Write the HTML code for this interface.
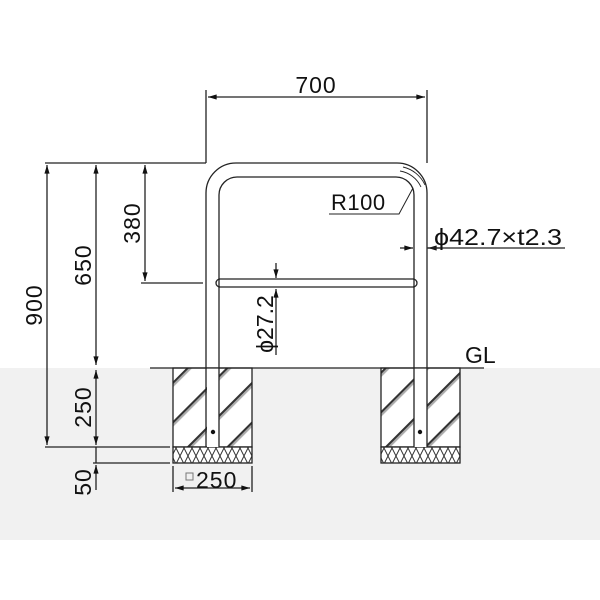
<!DOCTYPE html>
<html><head><style>body{margin:0;background:#fff}svg{display:block}text{font-family:"Liberation Sans","DejaVu Sans",sans-serif;fill:#111}</style></head>
<body>
<svg width="600" height="600" viewBox="0 0 600 600" xmlns="http://www.w3.org/2000/svg">
<defs>
<marker id="a" viewBox="0 0 10 6" refX="10" refY="3" markerWidth="8" markerHeight="4" orient="auto-start-reverse"><path d="M0,0L10,3L0,6z" fill="#111"/></marker>
<pattern id="h" width="28" height="28" patternUnits="userSpaceOnUse" patternTransform="rotate(45)">
<rect width="28" height="28" fill="#fff"/><rect x="0" y="0" width="2.2" height="28" fill="#333"/><rect x="2.2" y="0" width="2" height="28" fill="#aaa"/></pattern>
<pattern id="x" width="8" height="16" patternUnits="userSpaceOnUse">
<rect width="8" height="16" fill="#fff"/><path d="M0,16L8,0M0,0L8,16" stroke="#333" stroke-width="1"/></pattern>
</defs>
<rect x="0" y="368" width="600" height="172" fill="#f1f1f1"/>
<g stroke="#222" stroke-width="1.3" fill="none">
<rect x="173" y="368" width="79" height="79" fill="url(#h)"/>
<rect x="381" y="368" width="79" height="79" fill="url(#h)"/>
<rect x="173" y="447" width="79" height="16" fill="url(#x)"/>
<rect x="381" y="447" width="79" height="16" fill="url(#x)"/>
<rect x="207" y="368" width="12" height="79" fill="#fff" stroke="none"/>
<rect x="414" y="368" width="13" height="79" fill="#fff" stroke="none"/>
<path d="M206,447V193A30,30 0 0 1 236,163H397A30,30 0 0 1 427,193V447"/>
<path d="M219,447V195A18,18 0 0 1 237,177H396A18,18 0 0 1 414,195V447"/>
<path d="M219,279H414M219,287H414"/>
<path d="M413,279a4,4 0 0 1 0,8M220,279a4,4 0 0 0 0,8" />
<path d="M400,171a28,28 0 0 1 21,16M403,167a32,32 0 0 1 22,18" stroke-width="0.9"/>
<path d="M150,368H484"/>
<path d="M206,90V163M427,90V163"/>
<path d="M208,97H425" marker-start="url(#a)" marker-end="url(#a)"/>
<path d="M45,163H206M45,447H170M93,463H170M141,283H203"/>
<path d="M47,165V445" marker-start="url(#a)" marker-end="url(#a)"/>
<path d="M96,165V365" marker-start="url(#a)" marker-end="url(#a)"/>
<path d="M96,370V445" marker-start="url(#a)" marker-end="url(#a)"/>
<path d="M96,490V465" marker-end="url(#a)"/>
<path d="M96,447V463"/>
<path d="M145,165V281" marker-start="url(#a)" marker-end="url(#a)"/>
<path d="M173,466V492M252,466V492"/>
<path d="M175,488H250" marker-start="url(#a)" marker-end="url(#a)"/>
<path d="M400,248H413" marker-end="url(#a)"/>
<path d="M440,248H428" marker-end="url(#a)"/>
<path d="M427,248H565"/>
<path d="M276,263V278" marker-end="url(#a)"/>
<path d="M276,355V289" marker-end="url(#a)"/>
<path d="M329,214H399L413,188" stroke-width="1"/>
</g>
<rect x="186" y="473" width="7" height="7" fill="none" stroke="#777" stroke-width="1"/>
<circle cx="213" cy="432" r="2.2" fill="#111"/>
<circle cx="420" cy="432" r="2.2" fill="#111"/>
<g font-size="23">
<text x="316" y="93" text-anchor="middle" letter-spacing="1">700</text>
<text x="331" y="210" font-size="22" letter-spacing="0.5">R100</text>
<text x="434" y="245" textLength="128" lengthAdjust="spacingAndGlyphs">ϕ42.7×t2.3</text>
<text x="465" y="363">GL</text>
<text x="196" y="488" letter-spacing="1">250</text>
<text transform="translate(42,305) rotate(-90)" text-anchor="middle" letter-spacing="1">900</text>
<text transform="translate(91,265) rotate(-90)" text-anchor="middle" letter-spacing="1">650</text>
<text transform="translate(91,407) rotate(-90)" text-anchor="middle" letter-spacing="1">250</text>
<text transform="translate(91,482) rotate(-90)" text-anchor="middle" letter-spacing="1">50</text>
<text transform="translate(140,223) rotate(-90)" text-anchor="middle" letter-spacing="1">380</text>
<text transform="translate(273,324) rotate(-90)" text-anchor="middle">ϕ27.2</text>
</g>
</svg>
</body></html>
